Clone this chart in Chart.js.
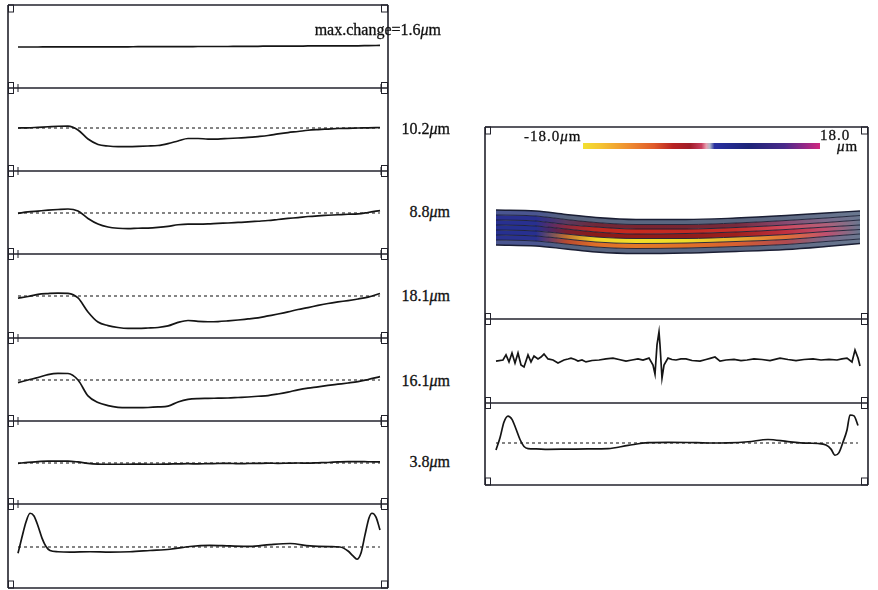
<!DOCTYPE html>
<html><head><meta charset="utf-8">
<script src="https://cdn.jsdelivr.net/npm/chart.js@4.4.1/dist/chart.umd.min.js"></script>
<style>
html,body{margin:0;padding:0;background:#fff;}
#fig{position:relative;width:878px;height:590px;overflow:hidden;background:#fff;font-family:"Liberation Serif","Times New Roman",serif;color:#111;}
.pane{position:absolute;}
.pane canvas{display:block;}
.lbl{position:absolute;font-size:16px;line-height:16px;white-space:nowrap;-webkit-text-stroke:0.3px #111;}
.lbl.r{text-align:right;}
.cb{font-size:15px;line-height:15px;letter-spacing:1px;}
</style></head><body><div id="fig"></div>
<script>
// ---------------- DATA ----------------
// positions along the profile (left column, px-equivalent units 0..362)
const profileX = [0,10,20,30,40,50,60,70,80,90,100,110,120,130,140,150,160,170,180,190,200,210,220,230,240,250,260,270,280,290,300,310,320,330,340,350,362];
// denser positions near the two ends (edge-peak profiles)
const edgeX = [0,4,8,12,16,20,24,28,32,40,52,72,92,112,132,152,172,192,212,232,252,272,292,312,322,330,335,339,343,347,351,354,358,362];
// displacement change (um) for each step
const changeP1 = [0,0,0,0.1,0.1,0.1,0.1,0.1,0.1,0.1,0.1,0.1,0.2,0.2,0.2,0.2,0.2,0.2,0.3,0.3,0.3,0.3,0.4,0.4,0.4,0.5,0.5,0.5,0.5,0.6,0.6,0.6,0.7,0.7,0.7,0.8,0.9];
const changeP2 = [0,0.1,0.4,0.7,1.0,1.1,-1.1,-6.3,-9.4,-10.3,-10.6,-10.6,-10.5,-10.3,-10.0,-8.9,-7.4,-6.0,-6.0,-6.3,-6.3,-6.0,-5.7,-5.4,-4.9,-4.3,-3.4,-2.6,-2.0,-1.3,-0.9,-0.6,-0.3,-0.2,0,0.1,0.3];
const changeP3 = [-0.2,0.6,1.1,1.6,2.0,2.3,1.1,-3.1,-6.3,-8.0,-8.7,-8.9,-8.7,-8.6,-8.2,-7.6,-6.7,-6.3,-6.3,-6.2,-5.9,-5.7,-5.4,-5.1,-4.7,-4.3,-3.7,-3.1,-2.6,-2.0,-1.6,-1.3,-1.0,-0.7,-0.5,0.3,1.4];
const changeP4 = [-1.3,-0.3,0.9,1.4,1.7,1.5,-1.1,-9.1,-14.9,-16.9,-18.0,-18.5,-18.5,-18.3,-18.0,-17.1,-15.1,-14.0,-14.5,-14.7,-14.6,-14.2,-13.7,-13.1,-12.5,-11.4,-10.3,-9.1,-7.7,-6.6,-5.4,-4.3,-3.4,-2.6,-1.7,-0.6,1.4];
const changeP5 = [-1.5,0,1.4,3.1,3.8,3.7,0,-9.1,-12.9,-14.6,-15.6,-15.8,-15.8,-15.7,-15.4,-14.9,-12.6,-11.1,-10.6,-10.5,-10.4,-10.3,-10.0,-9.7,-9.3,-8.9,-8.0,-6.9,-5.6,-4.6,-3.9,-3.1,-2.4,-1.7,-0.9,0.3,1.9];
const changeP6 = [-0.2,0.4,0.8,1.1,1.1,1.1,0.6,-0.2,-0.6,-0.7,-0.7,-0.7,-0.6,-0.7,-0.7,-0.6,-0.5,-0.4,-0.5,-0.4,-0.3,-0.2,-0.4,-0.3,-0.2,-0.1,-0.2,-0.1,0,-0.1,0.1,0.3,0.6,0.8,0.8,0.7,0.6];
const changeP7 = [-3.6,5.7,14.3,19.3,17.7,12.0,5.1,0.3,-2.0,-2.7,-2.9,-2.7,-2.9,-2.7,-2.0,-1.3,0.3,0.9,0.6,0.4,1.4,2.0,0.6,0.2,0,-2.3,-5.1,-7.0,-3.4,6.9,16.6,19.3,17.1,9.7];
const changeLabels = ['max.change=1.6','10.2','8.8','18.1','16.1','3.8'];
// right column
const noiseX = [0,7,10,13,16,19,22,25,28,32,35,38,42,45,48,52,57,62,68,72,75,79,82,86,90,96,103,110,117,123,130,136,142,147,153,157,159,161,163,164,166,168,172,176,180,185,190,196,204,210,215,219,224,230,238,245,251,258,266,274,284,292,300,308,317,325,333,341,346,351,356,359,362,364];
const noiseVal = [-0.6,0,2.9,-1.1,4.0,-1.7,4.0,-2.9,-4.0,2.9,-1.1,2.3,0.6,1.7,3.4,0.6,0,-1.7,0,0.6,1.1,0.3,-0.6,0,-1.1,-0.3,0,0.6,1.1,0.3,-0.6,0,0.6,0,1.1,-2.9,-8.0,8.6,16.0,8.6,-10.3,-2.9,1.1,0.3,0,0.6,0.6,-0.3,-0.6,0.3,1.1,1.7,-0.6,0,0.3,-0.3,0,0.6,0.3,-0.3,1.1,0.3,-0.3,0.3,0.6,0,0.3,0,0.6,1.1,-1.1,5.7,1.1,-3.4];
const rightLower = [-4.0,3,12,15.4,13.5,8,2,-2,-3.2,-3.4,-3.6,-3.5,-3.4,-3.2,-1.4,0.2,0.4,0.3,0,0.1,0.7,2.0,0.8,-0.1,-0.3,-1.2,-3.5,-7.0,-5.5,0.5,7.4,16.0,15.5,10];
// contour band: layer boundary depths (scan rows) at bandX
const bandX = [0,40,70,100,140,190,240,290,330,364];
const bandEdge0 = [83,84,87.5,90.5,92.5,92.5,91,88.5,86,84];
const bandEdge1 = [88,89,92.5,95.5,97.5,97.5,96,93.5,91,88.5];
const bandEdge2 = [93,94,97.5,100,102,102,100.5,98,95.5,93];
const bandEdge3 = [98,99,102,105,107,106.5,105,102.5,100,98];
const bandEdge4 = [103,104,107,110,111.5,111.5,110,107.5,104.5,102.5];
const bandEdge5 = [108,109,112,115,116.5,116,114.5,112.5,109.5,107];
const bandEdge6 = [113,114,117,120,121.5,121,119.5,117.5,114.5,112];
const bandEdge7 = [118,119,122,125,126.5,126,124.5,122.5,119.5,116.5];
const colorbarRange = [-18, 18];

// ---------------- STYLE / LAYOUT ----------------
const stripe0 = ['#4a5590','#4a5590','#56627e','#5a6680','#5a6680','#5a6680','#5a6680','#5e6a84','#66728c','#6a7890'];
const stripe1 = ['#2a3090','#2a3090','#5a3a60','#702838','#7a2430','#782632','#782a3c','#8a4a70','#7a6a8a','#6a7890'];
const stripe2 = ['#283090','#283090','#8a2a40','#c02a20','#c82a1e','#c42a22','#c8302a','#d04a60','#b0607a','#6a7890'];
const stripe3 = ['#263090','#263090','#7a2030','#8a1a18','#901c1a','#8e1c1c','#a0201c','#c03040','#c05070','#6a7890'];
const stripe4 = ['#263090','#283090','#c07030','#f0d428','#f2e02a','#f0dc2a','#e8b030','#e07038','#c05070','#6a7890'];
const stripe5 = ['#2a3290','#2a3290','#b84a30','#e07028','#e27a28','#e07228','#d86030','#b04a50','#7a6a8a','#6a7890'];
const stripe6 = ['#4a5590','#4a5590','#56627e','#5a6680','#5a6680','#5a6680','#5a6680','#5e6a84','#66728c','#6a7890'];
const colorbarStops = [[0,'#f2e030'],[0.07,'#f5c632'],[0.2,'#ee8a30'],[0.3,'#e05a2a'],[0.38,'#b82222'],[0.45,'#a01c28'],[0.5,'#c84060'],[0.52,'#e8a0b0'],[0.535,'#b0b8c8'],[0.555,'#2830a0'],[0.7,'#1c2478'],[0.85,'#4a2a8a'],[0.93,'#902888'],[1,'#d02880']];

const pxPerUm = 1.75;
const leftEdges = [5,88,171,254,338,421,504,588];
const leftBase = [47,128,213,296,380,463,547];
const labelBaselines = [35,134,217,301,386,467];
const INK = '#151515', FRAME = '#22222c';

const fig = document.getElementById('fig');
function makeCanvas(left, top, w, h){
  const d = document.createElement('div'); d.className='pane';
  d.style.left=left+'px'; d.style.top=top+'px'; d.style.width=w+'px'; d.style.height=h+'px';
  const c = document.createElement('canvas'); c.width=w; c.height=h; c.style.width=w+'px'; c.style.height=h+'px';
  d.appendChild(c); fig.appendChild(d); return c;
}

const framePlugin = {
  id:'frame',
  afterDraw(chart, args, o){
    const {ctx, chartArea:a} = chart;
    const xl = a.left - o.offL, xr = a.right + o.offR;
    ctx.save();
    ctx.strokeStyle = FRAME; ctx.lineWidth = 1.6;
    ctx.beginPath();
    ctx.moveTo(xl, a.top); ctx.lineTo(xl, a.bottom);
    ctx.moveTo(xr, a.top); ctx.lineTo(xr, a.bottom);
    ctx.stroke();
    const hline = (y, kind) => {
      ctx.lineWidth = 1.6;
      ctx.beginPath(); ctx.moveTo(xl, y); ctx.lineTo(xr, y); ctx.stroke();
      ctx.lineWidth = 1;
      let y0 = y-5.5, hh = 11;
      if (kind==='top'){ y0 = y; hh = 7; }
      if (kind==='end'){ y0 = y-7; hh = 7; }
      ctx.strokeRect(xl+0.5, y0, 5, hh);
      ctx.strokeRect(xr-6.5, y0, 6, hh);
      if (o.ticks && kind==='mid'){
        ctx.beginPath();
        ctx.moveTo(a.left, y-4); ctx.lineTo(a.left, y+4);
        ctx.moveTo(a.right+1, y-4); ctx.lineTo(a.right+1, y+4);
        ctx.stroke();
      }
    };
    if (o.top) hline(a.top, 'top');
    hline(a.bottom, o.last ? 'end' : 'mid');
    ctx.restore();
  }
};

function pts(xs, ys){ return xs.map((x,i)=>({x, y: ys[i]})); }

function makeChart(canvas, padL, padR, xMax, yMin, yMax, rev, datasets, frame){
  return new Chart(canvas, {
    type:'line',
    data:{datasets},
    options:{
      responsive:false, animation:false, events:[],
      layout:{padding:{left:padL,right:padR,top:6,bottom:6}},
      plugins:{legend:{display:false}, tooltip:{enabled:false}, frame},
      scales:{
        x:{type:'linear',min:0,max:xMax,display:false},
        y:{type:'linear',min:yMin,max:yMax,reverse:rev,display:false}
      }
    },
    plugins:[framePlugin]
  });
}

function curveDS(xs, ys, smooth){
  return {data:pts(xs,ys), borderColor:INK, borderWidth:1.7, pointRadius:0,
    tension: smooth?0.4:0, cubicInterpolationMode: smooth?'monotone':'default', fill:false, clip:false};
}
function baselineDS(xEnd){
  return {data:[{x:0,y:0},{x:xEnd,y:0}], borderColor:'#222', borderWidth:1.1, borderDash:[3,3], pointRadius:0, fill:false};
}

// ---------------- LEFT COLUMN ----------------
const leftSeries = [changeP1,changeP2,changeP3,changeP4,changeP5,changeP6,changeP7];
const leftXs = [profileX,profileX,profileX,profileX,profileX,profileX,edgeX];
leftSeries.forEach((ys, i) => {
  const top = leftEdges[i], bottom = leftEdges[i+1], base = leftBase[i];
  const cv = makeCanvas(0, top-6, 400, bottom-top+12);
  const yMax = (base-top)/pxPerUm, yMin = -(bottom-base)/pxPerUm;
  const ds = [curveDS(leftXs[i], ys, true)];
  if (i>0) ds.push(baselineDS(362));
  makeChart(cv, 18, 20, 362, yMin, yMax, false, ds, {offL:10, offR:8, top:i===0, last:i===leftSeries.length-1, ticks:true});
});

// labels
changeLabels.forEach((t, i) => {
  const d = document.createElement('div'); d.className='lbl r';
  d.style.right = (878-450)+'px';
  d.style.top = (labelBaselines[i]-13.4)+'px';
  d.innerHTML = t + '<i>\u03bc</i>m';
  if (i===0){ d.style.right = (878-441)+'px'; }
  fig.appendChild(d);
});

// ---------------- RIGHT COLUMN ----------------
function hGradient(chart, xs, colors){
  const a = chart.chartArea; const sx = chart.scales.x;
  if (!a || !sx) return colors[Math.floor(colors.length/2)];
  const x0 = sx.getPixelForValue(xs[0]), x1 = sx.getPixelForValue(xs[xs.length-1]);
  const g = chart.ctx.createLinearGradient(x0,0,x1,0);
  xs.forEach((x,k)=> g.addColorStop((x-xs[0])/(xs[xs.length-1]-xs[0]), colors[k]));
  return g;
}
const bandEdges = [bandEdge0,bandEdge1,bandEdge2,bandEdge3,bandEdge4,bandEdge5,bandEdge6,bandEdge7];
const stripes = [stripe0,stripe1,stripe2,stripe3,stripe4,stripe5,stripe6];
const bandDS = bandEdges.map((e, i) => ({
  data: pts(bandX, e), borderColor:'#1a1e34', borderWidth: (i===0||i===7)?1.4:0.9, pointRadius:0,
  tension:0.4, cubicInterpolationMode:'monotone',
  fill: i===0 ? false : '-1',
  backgroundColor: i===0 ? 'transparent' : (ctx => hGradient(ctx.chart, bandX, stripes[i-1]))
}));
const rTop = [127,319,403,485];
const cvMap = makeCanvas(470, rTop[0]-6, 408, rTop[1]-rTop[0]+12);
const mapChart = makeChart(cvMap, 26, 18, 364, 0, rTop[1]-rTop[0], true, bandDS, {offL:11, offR:8, top:true, last:false, ticks:false});
mapChart.update();

const cvNoise = makeCanvas(470, rTop[1]-6, 408, rTop[2]-rTop[1]+12);
makeChart(cvNoise, 26, 18, 364, -(rTop[2]-360)/pxPerUm, (360-rTop[1])/pxPerUm, false,
  [curveDS(noiseX, noiseVal, false)], {offL:11, offR:8, top:false, last:false, ticks:false});

const cvLow = makeCanvas(470, rTop[2]-6, 408, rTop[3]-rTop[2]+12);
makeChart(cvLow, 26, 18, 364, -(rTop[3]-443)/pxPerUm, (443-rTop[2])/pxPerUm, false,
  [curveDS(edgeX, rightLower, true), baselineDS(362)], {offL:11, offR:8, top:false, last:true, ticks:false});

// colour bar
const cvBar = makeCanvas(583, 143, 237, 6);
const barChart = new Chart(cvBar, {
  type:'bar',
  data:{labels:['scale'], datasets:[{data:[colorbarRange], borderWidth:0, barPercentage:1, categoryPercentage:1,
    backgroundColor: ctx => {
      const ch = ctx.chart, a = ch.chartArea, sx = ch.scales.x;
      if (!a || !sx) return '#a01c28';
      const g = ch.ctx.createLinearGradient(sx.getPixelForValue(colorbarRange[0]),0,sx.getPixelForValue(colorbarRange[1]),0);
      colorbarStops.forEach(s => g.addColorStop(s[0], s[1]));
      return g;
    }}]},
  options:{indexAxis:'y', responsive:false, animation:false, events:[], layout:{padding:0},
    plugins:{legend:{display:false}, tooltip:{enabled:false}},
    scales:{x:{min:colorbarRange[0],max:colorbarRange[1],display:false}, y:{display:false}}}
});
barChart.update();

// colour bar labels
function addText(html, left, top, cls){
  const d = document.createElement('div'); d.className = 'lbl ' + (cls||'');
  d.style.left = left+'px'; d.style.top = top+'px'; d.innerHTML = html; fig.appendChild(d);
}
addText(colorbarRange[0].toFixed(1)+'<i>\u03bc</i>m', 524, 128.5, 'cb');
addText(colorbarRange[1].toFixed(1), 820, 127.5, 'cb');
addText('<i>\u03bc</i>m', 837, 138.5, 'cb');
</script>
</body></html>
